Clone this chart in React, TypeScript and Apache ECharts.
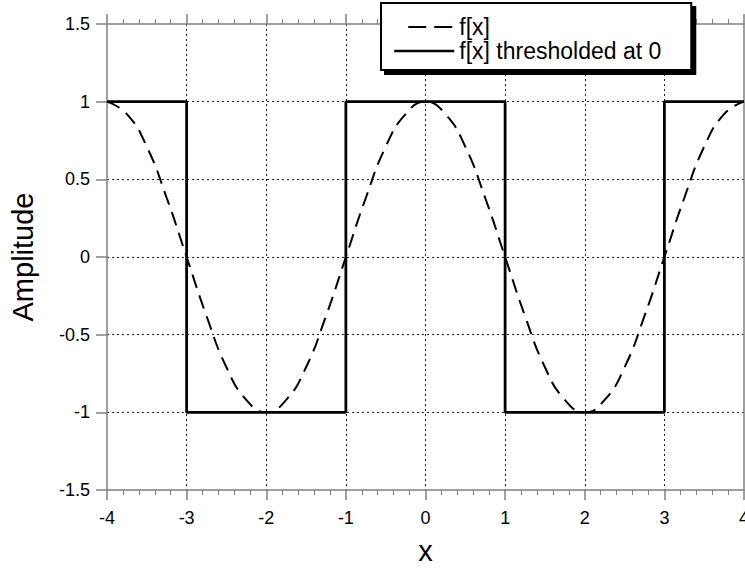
import React, { useEffect, useRef } from "react";
import * as echarts from "echarts";

// f[x] (dashed curve)
const cosX = [-4, -3.75, -3.5, -3.25, -3, -2.75, -2.5, -2.25, -2, -1.75, -1.5, -1.25, -1, -0.75, -0.5, -0.25, 0, 0.25, 0.5, 0.75, 1, 1.25, 1.5, 1.75, 2, 2.25, 2.5, 2.75, 3, 3.25, 3.5, 3.75, 4];
const cosY = [1, 0.92, 0.71, 0.38, 0, -0.38, -0.71, -0.92, -1, -0.92, -0.71, -0.38, 0, 0.38, 0.71, 0.92, 1, 0.92, 0.71, 0.38, 0, -0.38, -0.71, -0.92, -1, -0.92, -0.71, -0.38, 0, 0.38, 0.71, 0.92, 1];

// f[x] thresholded at 0 (solid square wave)
const sqX = [-4, -3, -3, -1, -1, 1, 1, 3, 3, 4];
const sqY = [1, 1, -1, -1, 1, 1, -1, -1, 1, 1];

const seriesNames = ["f[x]", "f[x] thresholded at 0"];
const xTicks = [-4, -3, -2, -1, 0, 1, 2, 3, 4];
const yTicks = [-1.5, -1, -0.5, 0, 0.5, 1, 1.5];

const FONT = "Liberation Sans, Arial, sans-serif";
const AXIS_GRAY = "#808080";

export default function App() {
  const ref = useRef<HTMLDivElement>(null);
  useEffect(() => {
    if (!ref.current) return;
    const chart = echarts.init(ref.current, null, { renderer: "svg" });
    const gridColorsX = xTicks.map((_, i) => (i === 0 || i === xTicks.length - 1 ? "transparent" : "#222"));
    const gridColorsY = yTicks.map((_, i) => (i === 0 || i === yTicks.length - 1 ? "transparent" : "#222"));
    chart.setOption({
      animation: false,
      backgroundColor: "#ffffff",
      textStyle: { fontFamily: FONT },
      grid: { left: 107, right: 1, top: 24, bottom: 79, containLabel: false, outerBoundsMode: "none" },
      legend: {
        orient: "vertical",
        left: 381,
        top: 3,
        padding: [12, 30, 7, 12],
        itemWidth: 60,
        itemHeight: 14,
        itemGap: 0,
        backgroundColor: "#ffffff",
        borderColor: "#000",
        borderWidth: 2,
        borderRadius: 0,
        shadowColor: "#000",
        shadowBlur: 0,
        shadowOffsetX: 4,
        shadowOffsetY: 4,
        textStyle: { fontSize: 23, color: "#000", fontFamily: FONT, lineHeight: 24 },
        data: [
          {
            name: seriesNames[0],
            lineStyle: { type: [0, 14, 18, 8, 18, 100], width: 2, color: "#000", cap: "butt" },
            itemStyle: { opacity: 0 },
          },
          {
            name: seriesNames[1],
            lineStyle: { type: "solid", width: 2.5, color: "#000" },
            itemStyle: { opacity: 0 },
          },
        ],
      },
      xAxis: [
        {
          type: "value",
          position: "bottom",
          min: xTicks[0],
          max: xTicks[xTicks.length - 1],
          interval: 1,
          axisLine: { show: true, onZero: false, lineStyle: { color: AXIS_GRAY, width: 1.5 } },
          axisTick: { show: true, inside: false, length: 10, lineStyle: { color: AXIS_GRAY, width: 1.5 } },
          minorTick: { show: true, splitNumber: 5, length: 5, lineStyle: { color: AXIS_GRAY, width: 1 } },
          axisLabel: { fontSize: 18, color: "#000", margin: 19, fontFamily: FONT },
          splitLine: { show: true, lineStyle: { color: gridColorsX, type: [2, 3], width: 1 } },
          name: "x",
          nameLocation: "middle",
          nameGap: 46,
          nameTextStyle: { fontSize: 29, color: "#000", fontFamily: FONT },
        },
        {
          type: "value",
          position: "top",
          min: xTicks[0],
          max: xTicks[xTicks.length - 1],
          interval: 1,
          axisLine: { show: true, onZero: false, lineStyle: { color: AXIS_GRAY, width: 1.5 } },
          axisTick: { show: true, inside: false, length: 10, lineStyle: { color: AXIS_GRAY, width: 1.5 } },
          minorTick: { show: true, splitNumber: 5, length: 5, lineStyle: { color: AXIS_GRAY, width: 1 } },
          axisLabel: { show: false },
          splitLine: { show: false },
        },
      ],
      yAxis: [
        {
          type: "value",
          position: "left",
          min: yTicks[0],
          max: yTicks[yTicks.length - 1],
          interval: 0.5,
          axisLine: { show: true, onZero: false, lineStyle: { color: AXIS_GRAY, width: 1.5 } },
          axisTick: { show: true, inside: false, length: 11, lineStyle: { color: AXIS_GRAY, width: 1.5 } },
          axisLabel: { fontSize: 18, color: "#000", margin: 17, fontFamily: FONT },
          splitLine: { show: true, lineStyle: { color: gridColorsY, type: [2, 3], width: 1 } },
          name: "Amplitude",
          nameLocation: "middle",
          nameGap: 70,
          nameTextStyle: { fontSize: 29, color: "#000", fontFamily: FONT },
        },
        {
          type: "value",
          position: "right",
          min: yTicks[0],
          max: yTicks[yTicks.length - 1],
          interval: 0.5,
          axisLine: { show: true, onZero: false, lineStyle: { color: AXIS_GRAY, width: 1.5 } },
          axisTick: { show: false },
          axisLabel: { show: false },
          splitLine: { show: false },
        },
      ],
      series: [
        {
          name: seriesNames[0],
          type: "line",
          xAxisIndex: 0,
          yAxisIndex: 0,
          smooth: true,
          symbol: "none",
          lineStyle: { color: "#000", width: 2, type: [14, 8] },
          itemStyle: { color: "#000" },
          data: cosX.map((x, i) => [x, cosY[i]]),
          z: 3,
        },
        {
          name: seriesNames[1],
          type: "line",
          xAxisIndex: 0,
          yAxisIndex: 0,
          symbol: "none",
          lineStyle: { color: "#000", width: 2.8, type: "solid" },
          itemStyle: { color: "#000" },
          data: sqX.map((x, i) => [x, sqY[i]]),
          z: 3,
        },
      ],
    });
    return () => chart.dispose();
  }, []);
  return (
    <div
      ref={ref}
      style={{ position: "absolute", left: 0, top: 0, width: 745, height: 569 }}
    />
  );
}
